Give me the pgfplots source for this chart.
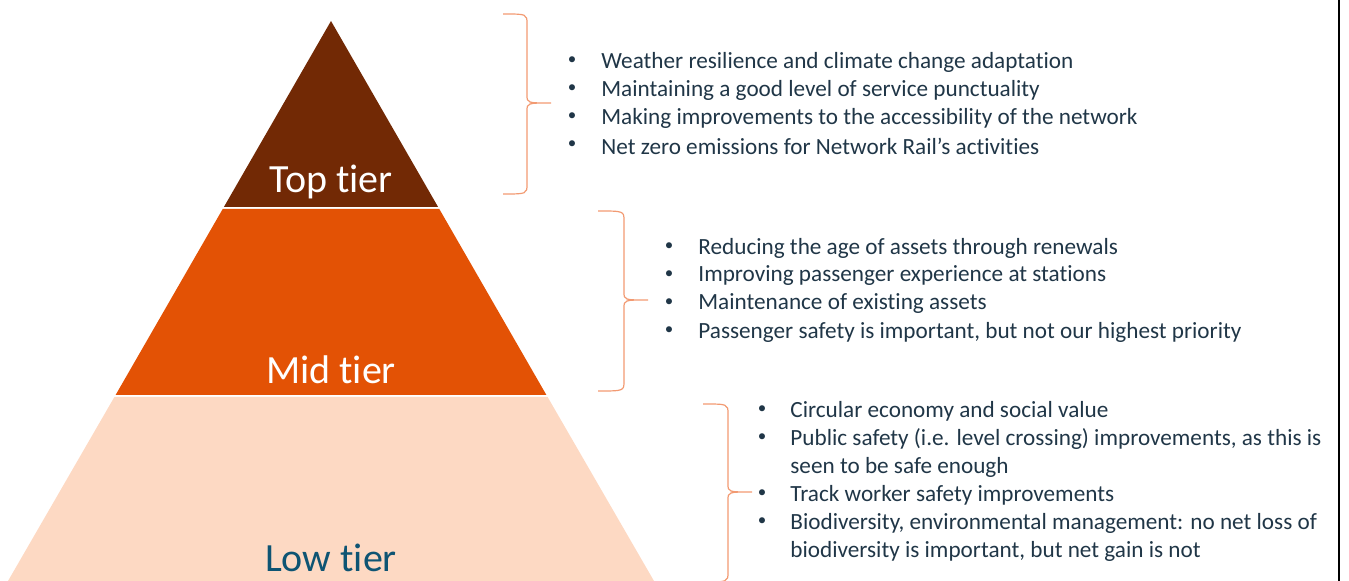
\documentclass[border=0pt]{standalone}
\usepackage{pgfplots}
\pgfplotsset{compat=1.18}
\usepackage{fontspec}
\setmainfont{Carlito}[Ligatures=CommonOff]
\definecolor{toptier}{HTML}{722905}
\definecolor{midtier}{HTML}{E35205}
\definecolor{lowtier}{HTML}{FDD9C3}
\definecolor{lowtext}{HTML}{0E5473}
\definecolor{bultext}{HTML}{203647}
\definecolor{bracec}{HTML}{F29A72}
\begin{document}
\begin{tikzpicture}
\begin{axis}[width=674.5pt,height=290.5pt,scale only axis,
  xmin=0,xmax=1349,ymin=0,ymax=581,y dir=reverse,
  axis lines=none,ticks=none,clip=true]
% pyramid tiers
\addplot[fill=toptier,draw=none] coordinates {(331,21) (438.1,207) (223.9,207)} -- cycle;
\addplot[fill=midtier,draw=none] coordinates {(222.7,209) (439.3,209) (546.4,395) (115.6,395)} -- cycle;
\addplot[fill=lowtier,draw=none] coordinates {(114.4,397) (547.6,397) (654,581) (8,581)} -- cycle;
\path (axis cs:0,0) rectangle (axis cs:1349,581);
% tier labels
\node[text=white,font=\fontsize{20}{22}\selectfont] at (axis cs:331,182) {Top tier};
\node[text=white,font=\fontsize{20}{22}\selectfont] at (axis cs:331,370) {Mid tier};
\node[text=lowtext,font=\fontsize{20}{22}\selectfont] at (axis cs:331,558) {Low tier};
% braces
\draw[bracec,line width=0.6pt] (axis cs:503,14) .. controls (axis cs:527,14) .. (axis cs:527,24) -- (axis cs:527,95) .. controls (axis cs:527,103) .. (axis cs:551,103) .. controls (axis cs:527,103) .. (axis cs:527,111) -- (axis cs:527,184) .. controls (axis cs:527,194) .. (axis cs:503,194);
\draw[bracec,line width=0.6pt] (axis cs:598,211) .. controls (axis cs:624,211) .. (axis cs:624,221) -- (axis cs:624,292) .. controls (axis cs:624,300) .. (axis cs:648,300) .. controls (axis cs:624,300) .. (axis cs:624,308) -- (axis cs:624,381) .. controls (axis cs:624,391) .. (axis cs:598,391);
\draw[bracec,line width=0.6pt] (axis cs:703,404) .. controls (axis cs:728,404) .. (axis cs:728,414) -- (axis cs:728,484) .. controls (axis cs:728,492) .. (axis cs:752,492) .. controls (axis cs:728,492) .. (axis cs:728,500) -- (axis cs:728,572) .. controls (axis cs:728,582) .. (axis cs:703,582);
% right border
\draw[black,line width=0.8pt] (axis cs:1339,0) -- (axis cs:1339,581);
% bullets
\begin{scope}[every node/.style={text=bultext,font=\fontsize{11.6}{13}\selectfont,inner sep=0pt}]
\begin{scope}[every node/.append style={font=\fontsize{8.5}{10}\selectfont}]
\node at (axis cs:572,61) {•};
\node at (axis cs:572,89) {•};
\node at (axis cs:572,117) {•};
\node at (axis cs:572,145) {•};
\node at (axis cs:669,247) {•};
\node at (axis cs:669,275) {•};
\node at (axis cs:669,303) {•};
\node at (axis cs:669,331) {•};
\node at (axis cs:762,410) {•};
\node at (axis cs:762,438) {•};
\node at (axis cs:762,494) {•};
\node at (axis cs:762,522) {•};
\end{scope}
\node[anchor=west] at (axis cs:601,62) {Weather resilience and climate change adaptation};
\node[anchor=west] at (axis cs:601,90) {Maintaining a good level of service punctuality};
\node[anchor=west] at (axis cs:601,118) {Making improvements to the accessibility of the network};
\node[anchor=west] at (axis cs:601,146) {Net zero emissions for Network Rail’s activities};
\node[anchor=west] at (axis cs:698,248) {Reducing the age of assets through renewals};
\node[anchor=west] at (axis cs:698,276) {Improving passenger experience at stations};
\node[anchor=west] at (axis cs:698,304) {Maintenance of existing assets};
\node[anchor=west] at (axis cs:698,332) {Passenger safety is important, but not our highest priority};
\node[anchor=west] at (axis cs:790,411) {Circular economy and social value};
\node[anchor=west] at (axis cs:790,439) {Public safety (i.e. level crossing) improvements, as this is};
\node[anchor=west] at (axis cs:790,467) {seen to be safe enough};
\node[anchor=west] at (axis cs:790,495) {Track worker safety improvements};
\node[anchor=west] at (axis cs:790,523) {Biodiversity, environmental management: no net loss of};
\node[anchor=west] at (axis cs:790,551) {biodiversity is important, but net gain is not};
\end{scope}
\end{axis}
\end{tikzpicture}
\end{document}
